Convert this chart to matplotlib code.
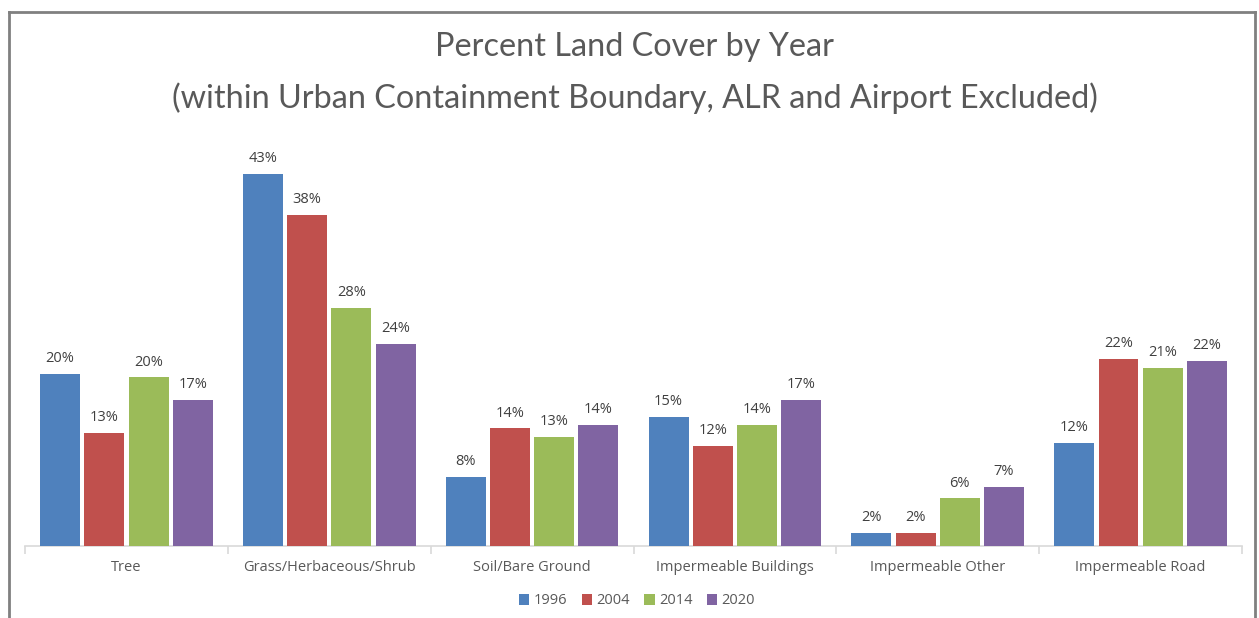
import matplotlib.pyplot as plt
from matplotlib.lines import Line2D
import numpy as np

categories = ["Tree", "Grass/Herbaceous/Shrub", "Soil/Bare Ground",
              "Impermeable Buildings", "Impermeable Other", "Impermeable Road"]
years = ["1996", "2004", "2014", "2020"]
values = {
    "1996": [19.9, 43.0, 8.0, 14.9, 1.5, 11.9],
    "2004": [13.1, 38.3, 13.6, 11.6, 1.5, 21.6],
    "2014": [19.5, 27.5, 12.6, 14.0, 5.5, 20.6],
    "2020": [16.9, 23.4, 14.0, 16.9, 6.8, 21.4],
}
labels = {
    "1996": ["20%", "43%", "8%", "15%", "2%", "12%"],
    "2004": ["13%", "38%", "14%", "12%", "2%", "22%"],
    "2014": ["20%", "28%", "13%", "14%", "6%", "21%"],
    "2020": ["17%", "24%", "14%", "17%", "7%", "22%"],
}
colors = ["#4F81BD", "#C0504D", "#9BBB59", "#8064A2"]

plt.rcParams["font.family"] = ["Open Sans", "DejaVu Sans"]
text_color = "#595959"

fig = plt.figure(figsize=(12.59, 6.18), dpi=100)
ax = fig.add_axes([0.0199, 0.1165, 0.9666, 0.6998])

x = np.arange(len(categories))
width = 0.197
step = 0.218
for i, (yr, col) in enumerate(zip(years, colors)):
    pos = x + (i - 1.5) * step
    bars = ax.bar(pos, values[yr], width, color=col, label=yr, zorder=3)
    for b, lab in zip(bars, labels[yr]):
        ax.text(b.get_x() + b.get_width() / 2, b.get_height() + 0.9, lab,
                ha="center", va="bottom", fontsize=10.5, color="#404040")

ax.set_xlim(-0.5, len(categories) - 0.5)
ax.set_ylim(0, 50)
ax.set_yticks([])
for s in ["top", "right", "left"]:
    ax.spines[s].set_visible(False)
ax.spines["bottom"].set_color("#d9d9d9")
ax.spines["bottom"].set_linewidth(1.2)

ax.set_xticks(x)
ax.set_xticklabels(categories, fontsize=10.5, color=text_color)
ax.tick_params(axis="x", which="major", length=0, pad=10)
ax.set_xticks(np.arange(len(categories) + 1) - 0.5, minor=True)
ax.tick_params(axis="x", which="minor", length=6, color="#d9d9d9", width=1.2)

title_font = dict(ha="center", va="center", fontsize=23.3, color=text_color,
                  fontfamily=["Lato", "DejaVu Sans"])
tx = 0.5 + 5 / 1259
fig.text(tx, 1 - 47 / 618, "Percent Land Cover by Year", **title_font)
fig.text(tx, 1 - 98 / 618,
         "(within Urban Containment Boundary, ALR and Airport Excluded)", **title_font)

leg = fig.legend(loc="center", bbox_to_anchor=(0.506, 1 - 601 / 618), ncol=4,
                 frameon=False, fontsize=10.5, handlelength=0.7, handleheight=0.7,
                 handletextpad=0.3, columnspacing=1.0)
for t in leg.get_texts():
    t.set_color(text_color)

# chart border (left, top, right)
fx0, fx1, fy1 = 9 / 1259, 1255 / 1259, 1 - 12 / 618
for xs, ys in [([fx0, fx0], [0, fy1]), ([fx0, fx1], [fy1, fy1]), ([fx1, fx1], [fy1, 0])]:
    fig.add_artist(Line2D(xs, ys, color="#808080", linewidth=2, transform=fig.transFigure))

fig.savefig("out.png", dpi=100)
